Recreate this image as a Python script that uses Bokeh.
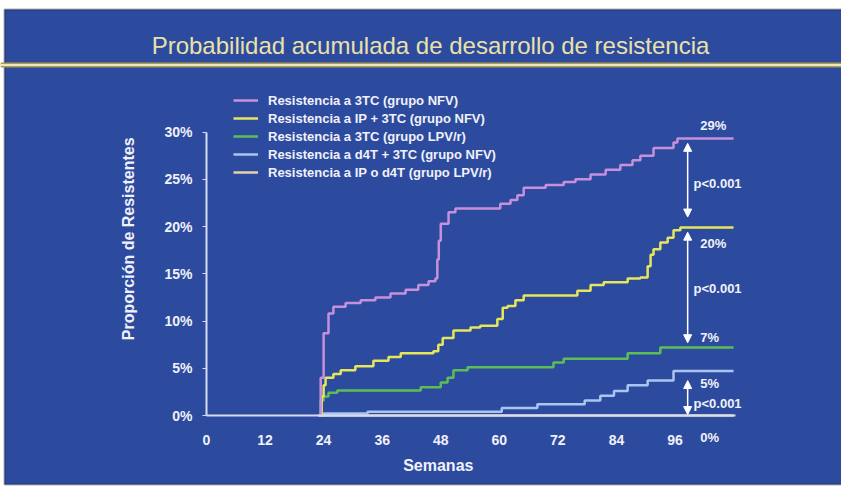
from math import pi
from bokeh.plotting import figure
from bokeh.models import (Range1d, FixedTicker, Label, Arrow, NormalHead, Legend,
                          LegendItem, Span, BoxAnnotation)
from bokeh.embed import file_html
from bokeh.resources import INLINE

# ---------------- data ----------------
title_text = "Probabilidad acumulada de desarrollo de resistencia"
x_label = "Semanas"
y_label = "Proporción de Resistentes"
x_ticks = [0, 12, 24, 36, 48, 60, 72, 84, 96]
y_ticks = [0, 5, 10, 15, 20, 25, 30]
y_tick_labels = ["0%", "5%", "10%", "15%", "20%", "25%", "30%"]

series_names = [
    "Resistencia a 3TC (grupo NFV)",
    "Resistencia a IP + 3TC (grupo NFV)",
    "Resistencia a 3TC (grupo LPV/r)",
    "Resistencia a d4T + 3TC (grupo NFV)",
    "Resistencia a IP o d4T (grupo LPV/r)",
]

weeks_3tc_nfv = [23.0, 23.4, 24.0, 25.0, 26.0, 28.5, 31.6, 34.6, 37.7, 40.8, 43.4, 45.5,
                 46.9, 47.3, 47.6, 48.0, 49.6, 51.0, 60.2, 62.3, 63.7, 65.0, 69.5, 73.2,
                 75.6, 78.7, 81.8, 84.8, 87.3, 88.9, 91.6, 95.7, 96.5, 108.0]
pct_3tc_nfv = [0.0, 4.0, 8.7, 10.8, 11.5, 11.9, 12.2, 12.5, 12.9, 13.3, 13.8, 14.2,
               14.5, 16.5, 18.5, 20.3, 21.5, 21.9, 22.4, 22.8, 23.3, 24.1, 24.4, 24.7,
               25.0, 25.5, 26.0, 26.5, 27.0, 27.5, 28.3, 28.9, 29.3, 29.3]

weeks_ip3tc_nfv = [23.0, 23.6, 24.0, 24.4, 26.0, 27.5, 30.5, 34.2, 37.3, 39.8, 46.5, 47.5,
                   48.4, 50.6, 54.1, 56.1, 59.6, 60.7, 61.7, 63.3, 65.0, 76.0, 78.7, 81.4,
                   86.3, 88.9, 90.4, 91.0, 91.6, 93.0, 94.5, 95.7, 97.1, 108.0]
pct_ip3tc_nfv = [0.0, 2.0, 3.2, 4.0, 4.4, 4.8, 5.2, 5.8, 6.2, 6.6, 6.8, 7.5,
                 8.2, 9.0, 9.3, 9.5, 10.2, 11.4, 11.6, 12.2, 12.7, 13.2, 13.8, 14.1,
                 14.5, 14.6, 15.8, 17.0, 17.6, 18.3, 18.8, 19.6, 19.9, 19.9]

weeks_3tc_lpv = [23.0, 23.4, 24.0, 25.0, 26.8, 43.9, 48.0, 49.4, 50.6, 53.5, 71.1, 73.2,
                 86.3, 93.0, 108.0]
pct_3tc_lpv = [0.0, 1.6, 2.0, 2.4, 2.65, 3.0, 3.5, 4.0, 4.8, 5.1, 5.6, 6.0,
               6.6, 7.2, 7.2]

weeks_d4t_nfv = [23.0, 24.0, 33.0, 60.5, 67.8, 77.5, 80.7, 83.5, 86.3, 90.4, 95.7, 108.0]
pct_d4t_nfv = [0.0, 0.2, 0.4, 0.8, 1.2, 1.6, 2.1, 2.6, 3.2, 3.7, 4.7, 4.7]

weeks_ipd4t_lpv = [23.0, 108.0]
pct_ipd4t_lpv = [0.0, 0.0]

end_labels = ["29%", "20%", "7%", "5%", "0%"]
end_label_pct = [30.7, 18.2, 8.25, 3.4, -2.33]
p_text = "p<0.001"
p_label_pct = [24.55, 13.4, 1.27]
arrow_week = 98.6
arrow_from = [28.8, 19.4, 3.7]
arrow_to = [21.0, 7.7, 0.1]

# ---------------- style ----------------
BG = "#2D4B9E"
TXT = "#F0F1FA"
AXIS = "#D6DBF4"
colors = ["#C690DA", "#E6E65C", "#5DBE58", "#A9C6F2", "#E8D2AA"]
FONT = "Liberation Sans"

W, H = 841, 488
PX_W = 4.88      # pixels per week
PX_P = 9.45      # pixels per percentage point
X0, Y0 = 206, 415  # canvas position of the origin

x_range = Range1d(-X0 / PX_W, (W - X0) / PX_W)
y_range = Range1d((Y0 - H) / PX_P, Y0 / PX_P)

p = figure(width=W, height=H, x_range=x_range, y_range=y_range,
           toolbar_location=None, output_backend="svg", min_border=0)
p.background_fill_color = "white"
p.border_fill_color = "white"
p.outline_line_color = None
p.grid.visible = False

# slide panel
p.add_layout(BoxAnnotation(left=(4 - X0) / PX_W, right=(W + 20 - X0) / PX_W,
                           top=(Y0 - 9) / PX_P, bottom=(Y0 - 484) / PX_P,
                           fill_color=BG, fill_alpha=1, line_color="black",
                           line_width=2, level="underlay"))

# title + rule
p.add_layout(Label(x=(430 - X0) / PX_W, y=(Y0 - 45) / PX_P, text=title_text,
                   text_align="center", text_baseline="middle", text_font=FONT,
                   text_font_size="24px", text_color="#E9E1A9"))
p.add_layout(Span(location=(Y0 - 64.5) / PX_P, dimension="width",
                  line_color="#A99C58", line_width=5))
p.add_layout(Span(location=(Y0 - 64.5) / PX_P, dimension="width",
                  line_color="#EFE8B6", line_width=2))

xa = p.xaxis[0]
xa.fixed_location = 0
xa.ticker = FixedTicker(ticks=x_ticks)
xa.bounds = (0, 108.4)
xa.axis_line_color = AXIS
xa.axis_line_width = 2
xa.major_tick_line_color = None
xa.minor_tick_line_color = None
xa.major_tick_out = 0
xa.major_tick_in = 0
xa.major_label_standoff = 19
xa.major_label_text_color = TXT
xa.major_label_text_font = FONT
xa.major_label_text_font_style = "bold"
xa.major_label_text_font_size = "14px"

ya = p.yaxis[0]
ya.fixed_location = 0
ya.ticker = FixedTicker(ticks=y_ticks)
ya.bounds = (0, 30)
ya.major_label_overrides = {t: s for t, s in zip(y_ticks, y_tick_labels)}
ya.axis_line_color = AXIS
ya.axis_line_width = 2
ya.major_tick_line_color = AXIS
ya.major_tick_out = 4
ya.major_tick_in = 0
ya.minor_tick_line_color = None
ya.major_label_standoff = 10
ya.major_label_text_color = TXT
ya.major_label_text_font = FONT
ya.major_label_text_font_style = "bold"
ya.major_label_text_font_size = "14px"

all_weeks = [weeks_3tc_nfv, weeks_ip3tc_nfv, weeks_3tc_lpv, weeks_d4t_nfv, weeks_ipd4t_lpv]
all_pct = [pct_3tc_nfv, pct_ip3tc_nfv, pct_3tc_lpv, pct_d4t_nfv, pct_ipd4t_lpv]

rmap = {}
for i in [4, 3, 2, 1, 0]:
    rmap[i] = p.step(all_weeks[i], all_pct[i], mode="after", line_color=colors[i],
                     line_width=2.5)

legend = Legend(items=[LegendItem(label=series_names[i], renderers=[rmap[i]]) for i in range(5)],
                location=(233, H - 181), padding=0, margin=0, spacing=0,
                label_height=18, glyph_height=18, glyph_width=25, label_standoff=10,
                border_line_color=None, background_fill_alpha=0,
                label_text_color=TXT, label_text_font=FONT, label_text_font_style="bold",
                label_text_font_size="13px")
p.add_layout(legend)

for a, b in zip(arrow_from, arrow_to):
    p.add_layout(Arrow(x_start=arrow_week, y_start=a, x_end=arrow_week, y_end=b,
                       line_color="white", line_width=1.5,
                       start=NormalHead(size=8, fill_color="white", line_color="white"),
                       end=NormalHead(size=8, fill_color="white", line_color="white")))

for txt, yv in zip(end_labels, end_label_pct):
    p.add_layout(Label(x=101.2, y=yv, text=txt, text_align="left", text_baseline="middle",
                       text_font=FONT, text_font_style="bold", text_font_size="13px",
                       text_color=TXT))
for yv in p_label_pct:
    p.add_layout(Label(x=99.8, y=yv, text=p_text, text_align="left", text_baseline="middle",
                       text_font=FONT, text_font_style="bold", text_font_size="13px",
                       text_color=TXT))

p.add_layout(Label(x=47.5, y=-5.3, text=x_label, text_align="center", text_baseline="middle",
                   text_font=FONT, text_font_style="bold", text_font_size="16px",
                   text_color=TXT))
p.add_layout(Label(x=-16.0, y=18.7, text=y_label, angle=pi / 2, text_align="center",
                   text_baseline="middle", text_font=FONT, text_font_style="bold",
                   text_font_size="16px", text_color=TXT))

open("out.html", "w").write(file_html(p, INLINE))
